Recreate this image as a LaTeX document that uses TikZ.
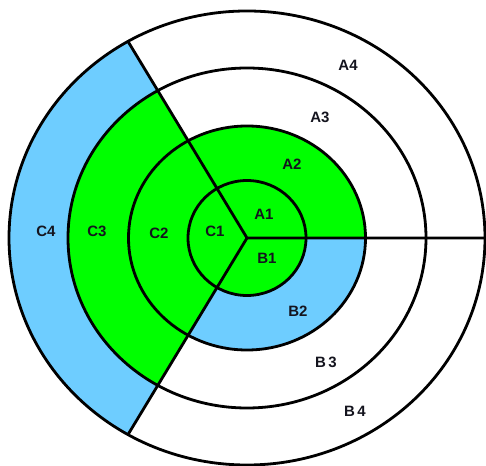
\documentclass[tikz,border=0pt]{standalone}
\usepackage{fontspec}
\setmainfont{Liberation Sans}
\usetikzlibrary{calc}
\definecolor{ringgreen}{RGB}{0,255,0}
\definecolor{ringblue}{RGB}{110,205,255}
\definecolor{labeldark}{RGB}{20,20,30}
\tikzset{
  outline/.style={draw=black, line width=2.8pt},
  ringlabel/.style={font=\fontsize{15}{17}\selectfont\bfseries, text=labeldark, inner sep=0pt},
}
\begin{document}
\begin{tikzpicture}[x=1pt, y=1pt]
\useasboundingbox (0,0) rectangle (486,465);
\fill[white] (0,0) rectangle (486,465);
\coordinate (c) at (247,227);
% radii of the four rings (horizontal / vertical)
\def\rxA{59}\def\ryA{57.5}
\def\rxB{118.5}\def\ryB{112}
\def\rxC{179}\def\ryC{170}
\def\rxD{238}\def\ryD{227}

% fills, painted from the outside in
\fill[ringblue] (c) -- ($(c)+(120:\rxD pt and \ryD pt)$)
  arc[start angle=120, end angle=240, x radius=\rxD, y radius=\ryD] -- cycle;
\fill[ringgreen] (c) -- ($(c)+(120:\rxC pt and \ryC pt)$)
  arc[start angle=120, end angle=240, x radius=\rxC, y radius=\ryC] -- cycle;
\fill[ringgreen] (c) ellipse[x radius=\rxB, y radius=\ryB];
\fill[ringblue] (c) -- ($(c)+(240:\rxB pt and \ryB pt)$)
  arc[start angle=240, end angle=360, x radius=\rxB, y radius=\ryB] -- cycle;
\fill[ringgreen] (c) ellipse[x radius=\rxA, y radius=\ryA];

% ring outlines
\draw[outline] (c) ellipse[x radius=\rxA, y radius=\ryA];
\draw[outline] (c) ellipse[x radius=\rxB, y radius=\ryB];
\draw[outline] (c) ellipse[x radius=\rxC, y radius=\ryC];
\draw[outline] (c) ellipse[x radius=\rxD, y radius=\ryD];

% sector dividers
\coordinate (ea) at ($(c)+(0:\rxD pt and \ryD pt)$);
\coordinate (eb) at ($(c)+(120:\rxD pt and \ryD pt)$);
\coordinate (ec) at ($(c)+(240:\rxD pt and \ryD pt)$);
\draw[outline] (ea) -- (c) -- (eb);
\draw[outline] (c) -- (ec);

% labels
\node[ringlabel] (a4) at (348,400) {A4};
\node[ringlabel] (a3) at (320,348) {A3};
\node[ringlabel] (a2) at (292,301) {A2};
\node[ringlabel] (a1) at (264,251) {A1};
\node[ringlabel] (b1) at (267,207) {B1};
\node[ringlabel] (b2) at (298,154) {B2};
\node[ringlabel] (b3) at (326,103) {B\,3};
\node[ringlabel] (b4) at (355,54) {B\,4};
\node[ringlabel] (c1) at (215,234) {C1};
\node[ringlabel] (c2) at (159,232) {C2};
\node[ringlabel] (c3) at (97,234) {C3};
\node[ringlabel] (c4) at (46,234) {C4};
\end{tikzpicture}
\end{document}
